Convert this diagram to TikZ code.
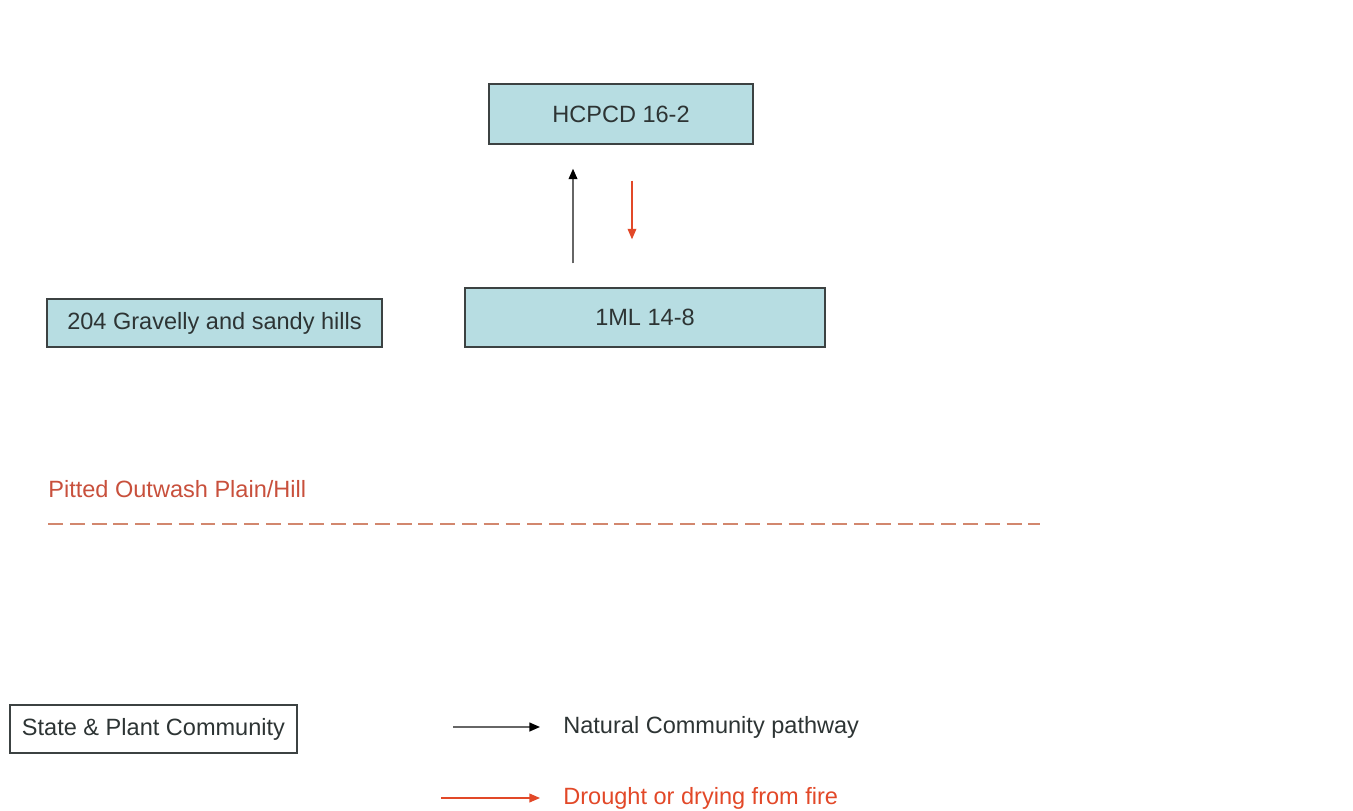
\documentclass[tikz,border=0pt]{standalone}
\usepackage{fontspec}
\setmainfont{Liberation Sans}
\usetikzlibrary{arrows.meta}

\definecolor{boxblue}{RGB}{183,221,226}
\definecolor{boxline}{RGB}{60,66,66}
\definecolor{txtgray}{RGB}{45,52,52}
\definecolor{firered}{RGB}{226,72,40}
\definecolor{zonered}{RGB}{200,80,60}
\definecolor{dashred}{RGB}{210,135,110}

\tikzset{
  state/.style={draw=boxline, fill=boxblue, line width=0.8pt, text=txtgray,
    minimum height=1.2cm, inner sep=0pt},
  legendbox/.style={draw=boxline, fill=white, line width=0.8pt, text=txtgray,
    minimum height=0.96cm, inner sep=0pt},
  natural/.style={-{Triangle[length=6pt,width=5pt,color=black]}, line width=0.9pt, draw=black!60},
  drought/.style={-{Triangle[length=6pt,width=5pt]}, line width=0.7pt, draw=firered},
  lbl/.style={anchor=west, inner sep=0pt}
}

\begin{document}
\begin{tikzpicture}[x=0.02cm, y=-0.02cm, font=\fontsize{13.4}{16}\selectfont]
\useasboundingbox (0,0) rectangle (1353,811);

% Etats
\node[state, minimum width=5.28cm] (hc) at (621,114) {HCPCD 16-2};
\node[state, minimum width=7.2cm, minimum height=1.18cm] (ml) at (645,317.5) {1ML 14-8};
\node[state, minimum width=6.7cm, minimum height=0.96cm] (grav) at (214.5,323) {204 Gravelly and sandy hills};

% Transitions
\draw[natural, shorten <=0.48cm, shorten >=0.48cm]
  ([xshift=-1.44cm]ml.north) -- ([xshift=-1.44cm]ml.north |- hc.south);
\draw[drought, shorten <=0.72cm, shorten >=0.96cm]
  ([xshift=0.22cm]hc.south) -- ([xshift=0.22cm]hc.south |- ml.north);

% Zone
\node[lbl, text=zonered] (zone) at (48,489) {Pitted Outwash Plain/Hill};
\coordinate (zoneL) at (48,524);
\coordinate (zoneR) at (1040,524);
\draw[dashred, line width=1.5pt, dash pattern=on 8.5pt off 3.9pt] (zoneL) -- (zoneR);

% Legende
\node[legendbox, minimum width=5.74cm] (leg) at (153.5,729) {State \& Plant Community};
\node[lbl, text=txtgray] (nat) at (563,727) {Natural Community pathway};
\node[lbl, text=firered] (dry) at (563,798) {Drought or drying from fire};
\coordinate (natS) at (453,727);
\coordinate (dryS) at (441,798);
\draw[natural] (natS) -- ([xshift=-0.46cm]nat.west);
\draw[drought] (dryS) -- ([xshift=-0.46cm]dry.west);

\end{tikzpicture}
\end{document}
